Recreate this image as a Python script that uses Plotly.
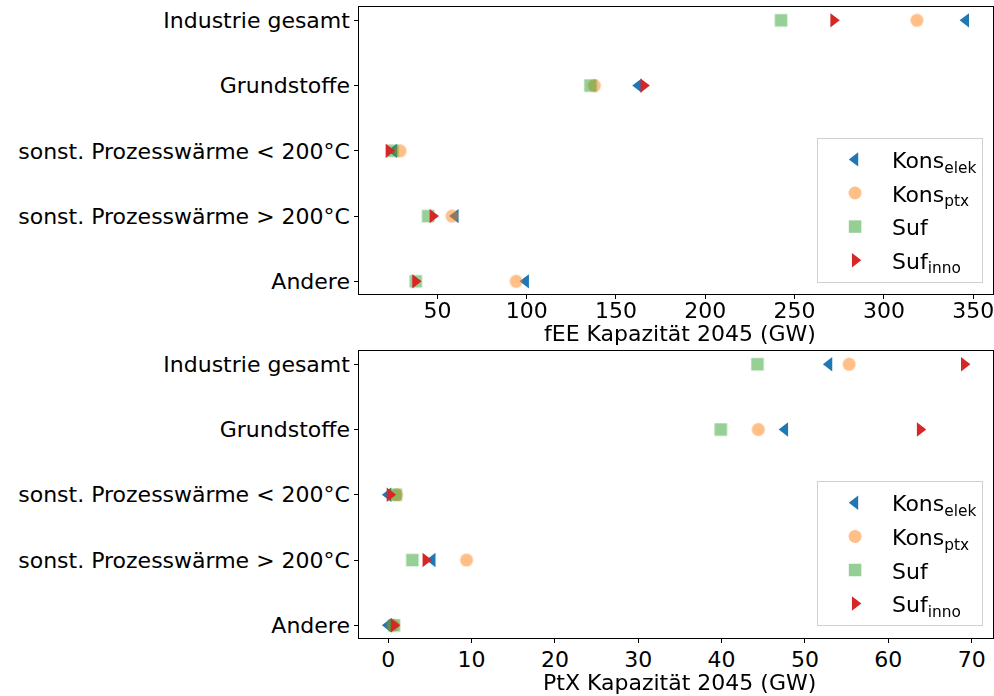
import plotly.graph_objects as go

categories = ["Industrie gesamt", "Grundstoffe", "sonst. Prozesswärme < 200°C",
              "sonst. Prozesswärme > 200°C", "Andere"]
series_names = ["Kons<sub>elek</sub>", "Kons<sub>ptx</sub>", "Suf", "Suf<sub>inno</sub>"]

# fEE capacity 2045 (GW)
fee_kons_elek = [345.9, 162.6, 25.6, 60.1, 99.5]
fee_kons_ptx = [318.5, 137.9, 29.1, 58.2, 94.1]
fee_suf = [242.4, 135.7, 24.8, 44.8, 37.9]
fee_suf_inno = [271.8, 165.5, 22.8, 47.4, 37.7]

# PtX capacity 2045 (GW)
ptx_kons_elek = [52.9, 47.6, 0.0, 5.3, 0.0]
ptx_kons_ptx = [55.3, 44.4, 1.0, 9.4, 0.6]
ptx_suf = [44.3, 39.9, 0.9, 2.9, 0.7]
ptx_suf_inno = [69.1, 63.8, 0.2, 4.5, 0.7]

x_titles = ["fEE Kapazität 2045 (GW)", "PtX Kapazität 2045 (GW)"]

styles = [
    dict(symbol="triangle-left", color="#1f77b4", opacity=1.0, size=12.5),
    dict(symbol="circle", color="#ff7f0e", opacity=0.5, size=13),
    dict(symbol="square", color="#2ca02c", opacity=0.5, size=12.5),
    dict(symbol="triangle-right", color="#d62728", opacity=1.0, size=12.5),
]

FONT = "DejaVu Sans"
FS = 22
fig = go.Figure()

panels = [
    ("x", "y", "legend", [fee_kons_elek, fee_kons_ptx, fee_suf, fee_suf_inno]),
    ("x2", "y2", "legend2", [ptx_kons_elek, ptx_kons_ptx, ptx_suf, ptx_suf_inno]),
]
for xa, ya, leg, series in panels:
    for i, (name, vals, st) in enumerate(zip(series_names, series, styles)):
        fig.add_trace(go.Scatter(
            x=vals, y=categories, mode="markers", name=name,
            xaxis=xa, yaxis=ya, legend=leg, legendgroup=f"{leg}_{i}",
            opacity=st["opacity"],
            marker=dict(symbol=st["symbol"], color=st["color"], size=st["size"],
                        line=dict(width=0)),
        ))

cat_order = list(reversed(categories))
axis_common = dict(showline=True, linecolor="black", linewidth=1, mirror=True,
                   ticks="outside", ticklen=4, tickwidth=1, tickcolor="black",
                   showgrid=False, zeroline=False,
                   tickfont=dict(family=FONT, size=FS, color="black"))

legend_common = dict(xanchor="right", yanchor="bottom",
                     bgcolor="rgba(255,255,255,0.8)", bordercolor="#d0d0d0", borderwidth=1,
                     font=dict(family=FONT, size=FS, color="black"),
                     tracegroupgap=2, itemwidth=64)

fig.update_layout(
    width=994, height=696,
    margin=dict(l=0, r=0, t=0, b=0),
    paper_bgcolor="white", plot_bgcolor="white",
    font=dict(family=FONT, size=FS, color="black"),
    showlegend=True,
    xaxis=dict(domain=[0.3615, 0.999], anchor="y", range=[6.3, 361.1],
               tick0=0, dtick=50, ticklabeloverflow="allow", ticklabelstandoff=-8,
               **axis_common),
    yaxis=dict(domain=[0.577, 0.9895], anchor="x", type="category",
               categoryorder="array", categoryarray=cat_order,
               range=[-0.2, 4.2], **axis_common),
    xaxis2=dict(domain=[0.3615, 0.999], anchor="y2", range=[-3.46, 72.56],
                tick0=0, dtick=10, ticklabeloverflow="allow", ticklabelstandoff=-3,
                **axis_common),
    yaxis2=dict(domain=[0.0828, 0.4954], anchor="x2", type="category",
                categoryorder="array", categoryarray=cat_order,
                range=[-0.2, 4.2], **axis_common),
    legend=dict(x=0.989, y=0.594, **legend_common),
    legend2=dict(x=0.989, y=0.1006, **legend_common),
    annotations=[
        dict(text=x_titles[0], xref="paper", yref="paper", x=0.684, y=1 - 333 / 696,
             xanchor="center", yanchor="middle", showarrow=False,
             font=dict(family=FONT, size=FS, color="black")),
        dict(text=x_titles[1], xref="paper", yref="paper", x=0.684, y=1 - 682 / 696,
             xanchor="center", yanchor="middle", showarrow=False,
             font=dict(family=FONT, size=FS, color="black")),
    ],
)

fig.write_html("out.html", config={"displayModeBar": False},
               post_script="document.body.style.margin='0';")
